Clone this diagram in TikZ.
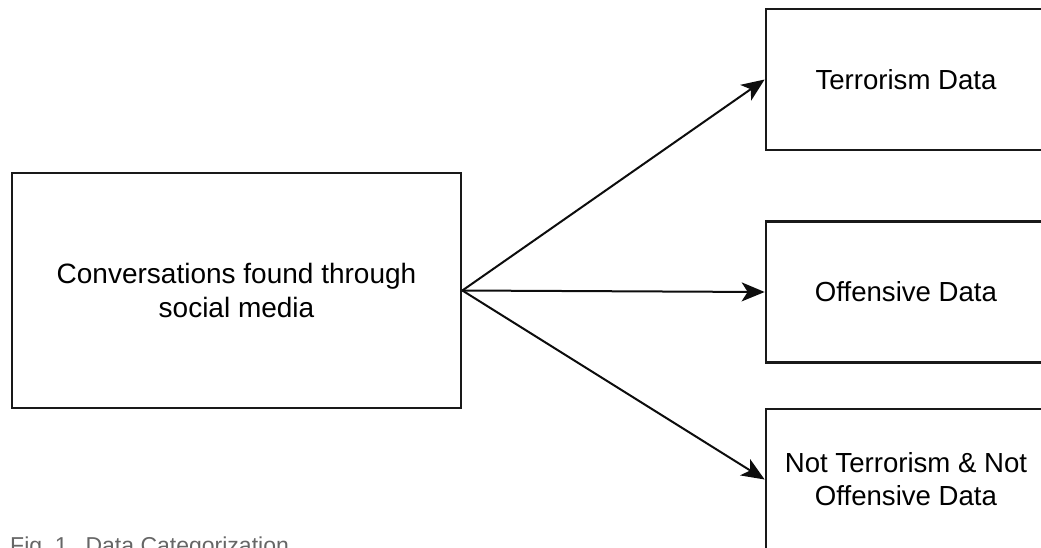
\documentclass[tikz,border=0pt]{standalone}
\usepackage{fontspec}
\setmainfont{Liberation Sans}
\usetikzlibrary{arrows.meta}

\tikzset{
  catbox/.style={draw=black!90, line width=2.7pt, minimum width=280pt, minimum height=141pt,
    align=center, inner sep=0pt, font=\fontsize{27.6}{33}\selectfont},
  srcbox/.style={draw=black!90, line width=2.7pt, minimum width=449pt, minimum height=235pt,
    align=center, inner sep=0pt, font=\fontsize{28}{33.5}\selectfont},
  link/.style={-{Stealth[length=23pt,width=19pt,inset=6pt]}, line width=2pt, black!95}
}

\begin{document}
\begin{tikzpicture}[x=1pt,y=-1pt]

  % Frame
  \useasboundingbox (0,0) rectangle (1041,547);
  \clip (0,0) rectangle (1041,547);

  % Source box
  \node[srcbox] (conv) at (236.5,290.5) {Conversations found through\\social media};

  % Categories
  \node[catbox] (terr) at (906,79.5) {Terrorism Data};
  \node[catbox] (offe) at (906,292) {Offensive Data};
  \node[catbox] (none) at (906,479.5) {Not Terrorism \& Not\\Offensive Data};

  % Arrows
  \draw[link] (conv.east) -- (terr.west);
  \draw[link] (conv.east) -- (offe.west);
  \draw[link] (conv.east) -- (none.west);

  % Caption
  \node[anchor=base west, inner sep=0pt, text=black!60, font=\fontsize{23}{23}\selectfont]
    (capt) at (10,553) {Fig.~1.\enspace Data Categorization};

\end{tikzpicture}
\end{document}
